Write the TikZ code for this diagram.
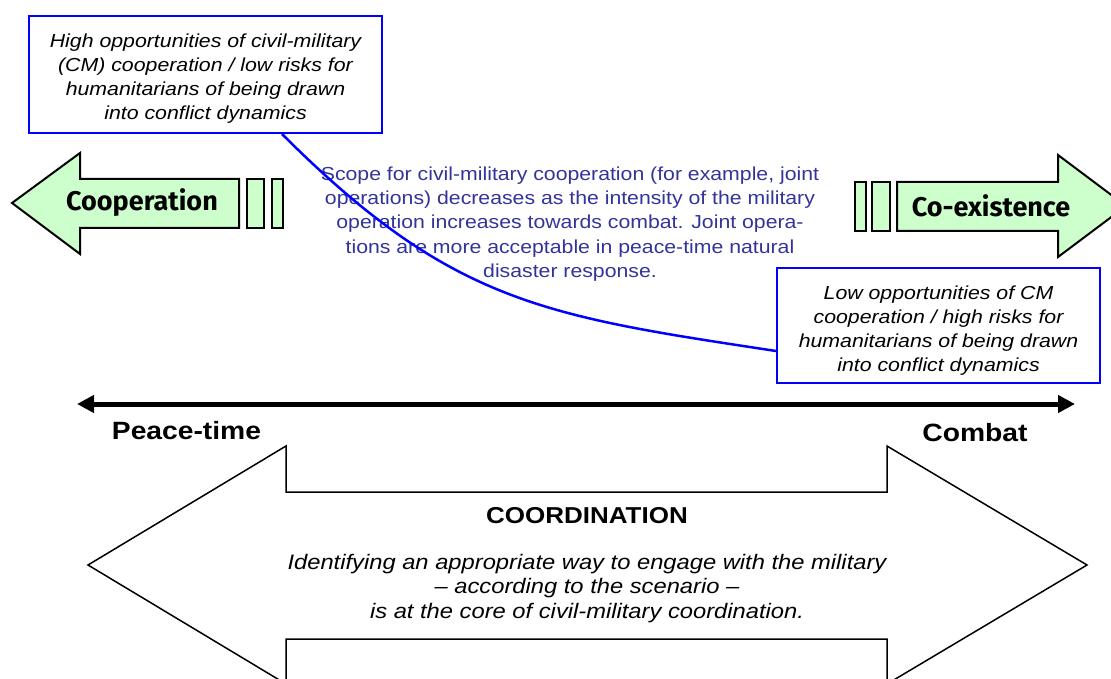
\documentclass[tikz,border=0pt]{standalone}
\usepackage{fontspec}
\setmainfont{Liberation Sans}[FakeStretch=1.13]
\newfontfamily\arrowfont{Fira Sans}
\usetikzlibrary{arrows.meta}
\definecolor{paleGreen}{RGB}{204,255,204}
\definecolor{noteBlue}{RGB}{51,51,153}
\tikzset{
greenarrow/.style={ % the two side arrows and their bars
draw, line width=2pt, fill=paleGreen, line join=miter},
arrowlabel/.style={font=\arrowfont\bfseries\fontsize{27}{30}\selectfont, inner sep=0pt},
opinion/.style={ % blue framed notes
draw=blue, line width=2pt, fill=white, inner sep=0pt},
opiniontext/.style={align=center, inner sep=0pt,
font=\itshape\fontsize{18.85}{24}\selectfont},
endlabel/.style={font=\bfseries\fontsize{25}{28}\selectfont, inner sep=0pt},
link/.style={draw=blue, line width=2.5pt}}

\begin{document}
\begin{tikzpicture}[x=1pt, y=-1pt]
\useasboundingbox (0,0) rectangle (1111,679);
\clip (0,0) rectangle (1111,679);
% side arrows
\path[greenarrow] (12,203) -- (80,153) -- (80,179) -- (239,179) -- (239,228) -- (80,228) -- (80,254) -- cycle;
\path[greenarrow] (247,179) rectangle (264,228);
\path[greenarrow] (272,179) rectangle (283,228);
\path[greenarrow] (897,182) -- (1058,182) -- (1058,155) -- (1126,206) -- (1058,257) -- (1058,231) -- (897,231) -- cycle;
\path[greenarrow] (872,182) rectangle (890,231);
\path[greenarrow] (855,182) rectangle (866,231);
\node[arrowlabel] (coop) at (142,203) {Cooperation};
\node[arrowlabel] (coex) at (991,206) {Co-existence};

\node[text=noteBlue, align=center, inner sep=0pt,
font=\fontsize{18.8}{24.2}\selectfont] (scope) at (570,224)
{Scope for civil-military cooperation (for example, joint\\
operations) decreases as the intensity of the military\\
operation increases towards combat. Joint opera-\\
tions are more acceptable in peace-time natural\\
disaster response.};

\node[opinion, minimum width=353, minimum height=117] (hiBox) at (205.5,74.5) {};
\node[opiniontext] (hiText) at ([yshift=-4pt]hiBox.center)
{High opportunities of civil-military\\
(CM) cooperation / low risks for\\
humanitarians of being drawn\\
into conflict dynamics};
\node[opinion, minimum width=323, minimum height=115] (loBox) at (938.5,325.5) {};
\node[opiniontext] (loText) at ([yshift=-5pt]loBox.center)
{Low opportunities of CM\\
cooperation / high risks for\\
humanitarians of being drawn\\
into conflict dynamics};
\draw[link] ([xshift=76.5pt]hiBox.south) .. controls +(170,170) and +(-230,-35) .. ([yshift=-25.5pt]loBox.west);

% scale from peace-time to combat
\coordinate (peace) at (77,404);
\coordinate (combat) at (1075,404);
\draw[line width=5pt, {Triangle[length=17pt,width=17pt]}-{Triangle[length=17pt,width=17pt]}] (peace) -- (combat);
\node[endlabel] (peaceLabel) at (186.5,431) {Peace-time};
\node[endlabel] (combatLabel) at (975,433) {Combat};

% coordination double arrow
\draw[line width=1.5pt, line join=miter] (88,565) -- (286,446) -- (286,492) -- (887,492) -- (887,446) -- (1087,565)
-- (887,684) -- (887,639) -- (286,639) -- (286,684) -- cycle;
\node[font=\bfseries\fontsize{23}{26}\selectfont, inner sep=0pt] (coord) at (587,516) {COORDINATION};
\node[font=\itshape\fontsize{21}{24.5}\selectfont, align=center, inner sep=0pt] (core) at (587,588.5)
{Identifying an appropriate way to engage with the military\\
-- according to the scenario --\\
is at the core of civil-military coordination.};
\end{tikzpicture}
\end{document}
